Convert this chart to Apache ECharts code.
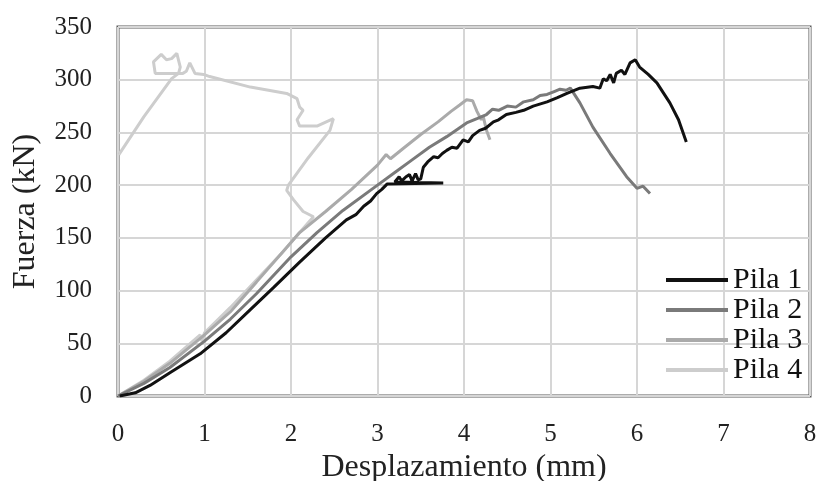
<!DOCTYPE html>
<html>
<head>
<meta charset="utf-8">
<script src="https://cdn.jsdelivr.net/npm/echarts@6/dist/echarts.min.js"></script>
<style>html,body{margin:0;padding:0;background:#fff}#c{width:817px;height:481px}</style>
</head>
<body>
<div id="c"></div>
<script>
const seriesNames = ['Pila 1', 'Pila 2', 'Pila 3', 'Pila 4'];
const xTicks = [0, 1, 2, 3, 4, 5, 6, 7, 8];
const yTicks = [0, 50, 100, 150, 200, 250, 300, 350];

const pila1 = [[0.02,0],[0.2,3],[0.37,10],[0.6,22],[0.95,40],[1.25,60],[1.53,82],[1.8,103],[2.1,127],[2.4,150],
  [2.64,167],[2.75,172],[2.84,180],[2.92,185],[2.99,192],[3.05,196],[3.11,201],[3.76,202],[3.2,203],[3.25,208],
  [3.28,204],[3.33,208],[3.37,210],[3.4,204],[3.44,211],[3.47,205],[3.5,206],[3.53,217],[3.58,222],[3.65,227],
  [3.7,226],[3.75,230],[3.8,233],[3.86,236],[3.92,235],[3.99,243],[4.05,241],[4.1,247],[4.18,252],[4.25,254],
  [4.34,260],[4.4,262],[4.49,267],[4.6,269],[4.69,271],[4.8,275],[4.96,279],[5.08,283],[5.19,287],[5.34,292],
  [5.49,293.5],[5.57,292],[5.61,301],[5.65,299],[5.69,305],[5.73,297],[5.76,306],[5.82,309],[5.86,305],[5.92,316],
  [5.98,319],[6.03,312],[6.13,305],[6.23,297],[6.38,278],[6.48,262],[6.57,241]];

const pila2 = [[0,0],[0.3,12],[0.6,27],[1.0,52],[1.3,73],[1.6,97],[2.0,132],[2.3,155],[2.6,176],[3.0,200],
  [3.2,212],[3.4,224],[3.6,236],[3.8,246],[4.03,259],[4.15,263],[4.26,267],[4.33,272],[4.4,271],[4.5,275],
  [4.6,274],[4.69,279],[4.8,281],[4.88,285],[4.96,286],[5.05,289],[5.11,291],[5.18,290],[5.23,292],[5.34,278],
  [5.49,255],[5.69,230],[5.88,208],[6.0,197],[6.07,199],[6.15,192]];

const pila3 = [[0,0],[0.3,14],[0.6,31],[1.0,58],[1.3,80],[1.6,108],[2.1,155],[2.4,175],[2.7,196],[3.0,219],
  [3.1,229],[3.15,225],[3.3,235],[3.5,248],[3.7,260],[3.85,270],[3.95,276],[4.03,281],[4.1,280],[4.15,270],
  [4.2,262],[4.22,266],[4.26,252],[4.3,243]];

const pila4 = [[0,0],[0.3,15],[0.6,33],[0.95,58],[0.97,52],[1.0,60],[1.3,84],[1.6,110],[1.9,136],[2.1,155],
  [2.26,170],[2.14,175],[2.03,186],[1.95,195],[1.97,200],[2.2,226],[2.45,252],[2.49,263],[2.3,256],[2.1,256],
  [2.07,262],[2.14,271],[2.1,274],[2.07,282],[1.95,287],[1.53,293],[1.06,303],[0.99,305],[0.89,306],[0.83,316],
  [0.79,308],[0.75,306],[0.43,306],[0.41,317],[0.5,324],[0.56,319],[0.62,320],[0.68,325],[0.72,312],[0.7,306],
  [0.62,301],[0.3,265],[0.01,229]];

const seriesData = [pila1, pila2, pila3, pila4];
const seriesColors = ['#111111', '#7a7a7a', '#aaaaaa', '#cdcdcd'];

const FONT = 'Liberation Serif';
const chart = echarts.init(document.getElementById('c'), null, {renderer: 'canvas'});
chart.setOption({
  animation: false,
  backgroundColor: '#ffffff',
  grid: {left: 118, right: 7, top: 27, bottom: 85, show: true, borderColor: '#5a5a5a', borderWidth: 3,
         containLabel: false, outerBoundsMode: 'none'},
  legend: {
    orient: 'vertical', left: 661, top: 260, itemGap: 0, itemWidth: 62, itemHeight: 4, icon: 'rect',
    data: seriesNames,
    textStyle: {fontFamily: FONT, fontSize: 30, color: '#111', lineHeight: 28, padding: [0, 0, 0, 0]}
  },
  xAxis: {
    type: 'value', min: xTicks[0], max: xTicks[xTicks.length - 1], interval: 1,
    name: 'Desplazamiento (mm)', nameLocation: 'middle', nameGap: 55,
    nameTextStyle: {fontFamily: FONT, fontSize: 32, color: '#222'},
    axisLine: {show: false}, axisTick: {show: false},
    axisLabel: {fontFamily: FONT, fontSize: 25, color: '#222', margin: 26},
    splitLine: {show: true, lineStyle: {color: '#d6d6d6', width: 2}}
  },
  yAxis: {
    type: 'value', min: yTicks[0], max: yTicks[yTicks.length - 1], interval: 50,
    name: 'Fuerza (kN)', nameLocation: 'middle', nameGap: 76,
    nameTextStyle: {fontFamily: FONT, fontSize: 32, color: '#222'},
    axisLine: {show: false}, axisTick: {show: false},
    axisLabel: {fontFamily: FONT, fontSize: 25, color: '#222', margin: 26},
    splitLine: {show: true, lineStyle: {color: '#d6d6d6', width: 2}}
  },
  series: seriesNames.map((n, i) => ({
    name: n, type: 'line', data: seriesData[i], showSymbol: false, symbol: 'none',
    color: seriesColors[i],
    lineStyle: {color: seriesColors[i], width: 3},
    z: 10 - i
  }))
});
</script>
</body>
</html>
